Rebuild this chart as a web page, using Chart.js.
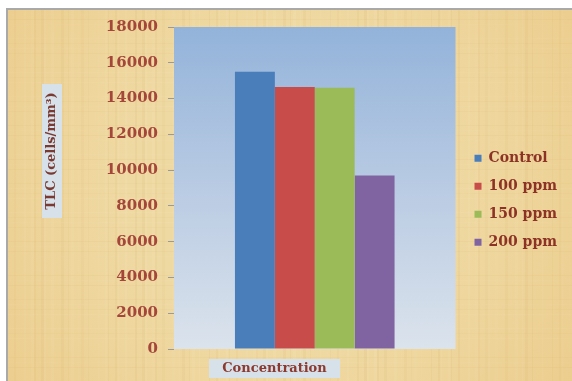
<!DOCTYPE html>
<html>
<head>
<meta charset="utf-8">
<script src="https://cdn.jsdelivr.net/npm/chart.js@4"></script>
<style>
  html, body { margin: 0; padding: 0; background: #fff; }
  #wrap { position: relative; width: 572px; height: 381px; }
</style>
</head>
<body>
<div id="wrap"><canvas id="tlcChart" width="572" height="381"></canvas></div>
<script>
const categories = ['Concentration'];
const seriesNames = ['Control', '100 ppm', '150 ppm', '200 ppm'];
const seriesValues = [[15500], [14650], [14600], [9700]];
const seriesColors = ['#4a7ebb', '#c84d4a', '#9bbb59', '#8064a2'];
const yTicks = [0, 2000, 4000, 6000, 8000, 10000, 12000, 14000, 16000, 18000];
const yTitle = 'TLC (cells/mm³)';

const serif = '"DejaVu Serif", "Liberation Serif", serif';

// papyrus-like backdrop, the sky gradient in the plot and the two label boxes
const decor = {
  id: 'decor',
  afterLayout(chart) {
    // nudge the legend a little away from the plot
    if (chart.legend) {
      chart.legend.left += 5;
      chart.legend.right += 5;
    }
  },
  beforeDraw(chart) {
    const ctx = chart.ctx;
    const W = chart.width, H = chart.height;
    const x0 = 7, y0 = 9;
    ctx.save();
    ctx.fillStyle = '#fff';
    ctx.fillRect(0, 0, W, H);
    ctx.fillStyle = '#efd9a3';
    ctx.fillRect(x0, y0, W - x0, H - y0);
    // soft streaks
    for (let i = 0; i < 90; i++) {
      const x = x0 + ((i * 37) % (W - x0));
      const a = 0.05 + 0.05 * Math.abs(Math.sin(i * 1.7));
      ctx.fillStyle = i % 2 ? 'rgba(255,245,215,' + a + ')' : 'rgba(205,165,90,' + a + ')';
      ctx.fillRect(x, y0, 1 + (i % 3), H - y0);
    }
    for (let j = 0; j < 50; j++) {
      const y = y0 + ((j * 29) % (H - y0));
      const a = 0.04 + 0.04 * Math.abs(Math.cos(j * 2.3));
      ctx.fillStyle = j % 2 ? 'rgba(255,245,215,' + a + ')' : 'rgba(205,165,90,' + a + ')';
      ctx.fillRect(x0, y, W - x0, 1);
    }
    // warmer edges
    const g = ctx.createRadialGradient(W / 2, H / 2, 150, W / 2, H / 2, 380);
    g.addColorStop(0, 'rgba(230,180,90,0)');
    g.addColorStop(1, 'rgba(225,170,80,0.3)');
    ctx.fillStyle = g;
    ctx.fillRect(x0, y0, W - x0, H - y0);
    // frame
    ctx.strokeStyle = '#a9a9a9';
    ctx.lineWidth = 2;
    ctx.beginPath();
    ctx.moveTo(x0, H);
    ctx.lineTo(x0, y0);
    ctx.lineTo(W, y0);
    ctx.stroke();

    // plot area gradient
    const a = chart.chartArea;
    const pg = ctx.createLinearGradient(0, a.top, 0, a.bottom);
    pg.addColorStop(0, '#93b3da');
    pg.addColorStop(0.5, '#b9cbe3');
    pg.addColorStop(1, '#dbe3ec');
    ctx.fillStyle = pg;
    ctx.fillRect(a.left, a.top, a.right - a.left, a.bottom - a.top);

    // y title box
    ctx.fillStyle = '#d6e1ea';
    ctx.fillRect(42, 84, 20, 134);
    // x label box
    ctx.fillRect(209, 359, 131, 19);
    ctx.restore();
  },
  afterDraw(chart) {
    const ctx = chart.ctx;
    ctx.save();
    ctx.fillStyle = '#7a3a32';
    ctx.font = 'bold 13px ' + serif;
    ctx.textAlign = 'center';
    ctx.textBaseline = 'middle';
    ctx.translate(52, 151);
    ctx.rotate(-Math.PI / 2);
    ctx.fillText(yTitle, 0, 0);
    ctx.restore();

    ctx.save();
    ctx.fillStyle = '#8c3a30';
    ctx.font = 'bold 13px ' + serif;
    ctx.textAlign = 'center';
    ctx.textBaseline = 'middle';
    ctx.fillText(categories[0], 274.5, 369);
    ctx.restore();
  }
};

new Chart(document.getElementById('tlcChart'), {
  type: 'bar',
  data: {
    labels: categories,
    datasets: seriesNames.map((name, i) => ({
      label: name,
      data: seriesValues[i],
      backgroundColor: seriesColors[i],
      borderWidth: 0
    }))
  },
  options: {
    responsive: false,
    animation: false,
    events: [],
    layout: { padding: { top: 27, right: 10, bottom: 24, left: 0 } },
    datasets: {
      bar: { categoryPercentage: 0.567, barPercentage: 1 }
    },
    plugins: {
      legend: {
        position: 'right',
        title: { display: true, text: ' ', padding: { top: 1, bottom: 1 }, font: { size: 12 } },
        labels: {
          boxWidth: 7,
          boxHeight: 7,
          padding: 14,
          color: '#8c3326',
          font: { family: serif, size: 14, weight: 'bold' }
        }
      },
      tooltip: { enabled: false }
    },
    scales: {
      x: {
        grid: { display: false },
        border: { display: false },
        ticks: { display: false }
      },
      y: {
        min: 0,
        max: 18000,
        afterBuildTicks: s => { s.ticks = yTicks.map(v => ({ value: v })); },
        afterFit: s => { s.width = 174; },
        grid: {
          drawOnChartArea: false,
          drawTicks: true,
          tickLength: 6,
          color: '#9a9a9a'
        },
        border: { display: false },
        ticks: {
          padding: 10,
          color: '#a4473a',
          font: { family: serif, size: 15, weight: 'bold' },
          callback: v => String(v)
        }
      }
    }
  },
  plugins: [decor]
});
</script>
</body>
</html>
